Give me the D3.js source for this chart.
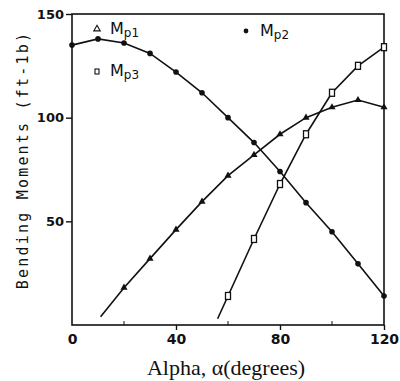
<!DOCTYPE html>
<html>
<head>
<meta charset="utf-8">
<script src="https://cdn.jsdelivr.net/npm/d3@7"></script>
<style>
  body { margin: 0; background: #fff; }
  svg { display: block; }
</style>
</head>
<body>
<div id="chart"></div>
<script>
// values
var alpha = [0, 10, 20, 30, 40, 50, 60, 70, 80, 90, 100, 110, 120];
var mp2 = [135, 138, 136, 131, 122, 112, 100, 88, 74, 59, 45, 29.5, 14];

var mp1Alpha = [11, 20, 30, 40, 50, 60, 70, 80, 90, 100, 110, 120];
var mp1 = [4, 18, 32, 46, 59.5, 72, 82, 92, 100, 105, 108.5, 105];

var mp3Alpha = [56, 60, 70, 80, 90, 100, 110, 120];
var mp3 = [3, 14, 41.5, 68, 92, 112, 125, 134];

var xTicks = [0, 40, 80, 120];
var yTicks = [50, 100, 150];

var W = 400, H = 381;
var svg = d3.select("#chart").append("svg")
  .attr("width", W).attr("height", H);

var x = d3.scaleLinear().domain([0, 120]).range([72, 384]);
var y = d3.scaleLinear().domain([0, 150]).range([325, 14]);

var ink = "#111";

// frame
svg.append("rect")
  .attr("x", x(0)).attr("y", y(150))
  .attr("width", x(120) - x(0)).attr("height", y(0) - y(150))
  .attr("fill", "none").attr("stroke", ink).attr("stroke-width", 1.6);

// left axis
var yAxis = d3.axisLeft(y).tickValues(yTicks).tickSize(6).tickPadding(2);
var gy = svg.append("g").attr("transform", "translate(" + x(0) + ",0)").call(yAxis);
gy.select(".domain").remove();
gy.selectAll("line").attr("stroke", ink).attr("stroke-width", 1.4);
gy.selectAll("text")
  .attr("font-family", "DejaVu Sans").attr("font-size", 13).attr("font-weight", "bold")
  .attr("fill", ink);

// bottom axis
var xAxis = d3.axisBottom(x).tickValues(xTicks).tickSize(5).tickPadding(4)
  .tickFormat(d3.format("d"));
var gx = svg.append("g").attr("transform", "translate(0," + y(0) + ")").call(xAxis);
gx.select(".domain").remove();
gx.selectAll("line").attr("stroke", ink).attr("stroke-width", 1.4);
gx.selectAll("text")
  .attr("font-family", "DejaVu Sans").attr("font-size", 14).attr("font-weight", "bold")
  .attr("fill", ink);
gx.selectAll(".tick").filter(function(d) { return d === 0; }).select("line").remove();

// minor ticks along the x axis
svg.selectAll(".minor")
  .data([20, 60, 100])
  .enter().append("line")
  .attr("x1", function(d) { return x(d); }).attr("x2", function(d) { return x(d); })
  .attr("y1", y(0)).attr("y2", y(0) - 4)
  .attr("stroke", ink).attr("stroke-width", 1);

// axis titles
svg.append("text")
  .attr("transform", "translate(28," + 160 + ") rotate(-90)")
  .attr("text-anchor", "middle")
  .attr("font-family", "DejaVu Sans Mono").attr("font-size", 15)
  .attr("letter-spacing", 2.2)
  .attr("fill", ink)
  .text("Bending Moments (ft-1b)");

svg.append("text")
  .attr("x", 226).attr("y", 375)
  .attr("text-anchor", "middle")
  .attr("font-family", "Liberation Serif").attr("font-size", 22)
  .attr("fill", ink)
  .text("Alpha, \u03b1(degrees)");

// lines
var line = d3.line()
  .x(function(d) { return x(d[0]); })
  .y(function(d) { return y(d[1]); });

var s1 = d3.zip(mp1Alpha, mp1);
var s2 = d3.zip(alpha, mp2);
var s3 = d3.zip(mp3Alpha, mp3);

[s1, s2, s3].forEach(function(s) {
  svg.append("path").datum(s)
    .attr("d", line)
    .attr("fill", "none").attr("stroke", ink).attr("stroke-width", 1.6);
});

// markers
svg.selectAll(".tri")
  .data(s1.slice(1))
  .enter().append("path")
  .attr("class", "tri")
  .attr("d", d3.symbol().type(d3.symbolTriangle).size(22))
  .attr("transform", function(d) { return "translate(" + x(d[0]) + "," + y(d[1]) + ")"; })
  .attr("fill", ink);

svg.selectAll(".dot")
  .data(s2)
  .enter().append("circle")
  .attr("class", "dot")
  .attr("cx", function(d) { return x(d[0]); })
  .attr("cy", function(d) { return y(d[1]); })
  .attr("r", 2.8)
  .attr("fill", ink);

svg.selectAll(".sq")
  .data(s3.slice(1))
  .enter().append("rect")
  .attr("class", "sq")
  .attr("x", function(d) { return x(d[0]) - 2.5; })
  .attr("y", function(d) { return y(d[1]) - 3.5; })
  .attr("width", 5).attr("height", 7)
  .attr("fill", "#fff").attr("stroke", ink).attr("stroke-width", 1.3);

// legend
function legendLabel(px, py, sub) {
  var t = svg.append("text")
    .attr("x", px).attr("y", py)
    .attr("font-family", "DejaVu Sans").attr("font-size", 16)
    .attr("fill", ink);
  t.append("tspan").text("M");
  t.append("tspan").attr("dy", 3).attr("font-size", 12).text(sub);
}

svg.append("path")
  .attr("d", d3.symbol().type(d3.symbolTriangle).size(18))
  .attr("transform", "translate(97,29)")
  .attr("fill", "none").attr("stroke", ink).attr("stroke-width", 1.1);
legendLabel(110, 34, "p1");

svg.append("circle").attr("cx", 246).attr("cy", 31).attr("r", 2.4).attr("fill", ink);
legendLabel(260, 36, "p2");

svg.append("rect").attr("x", 95).attr("y", 69).attr("width", 4).attr("height", 5)
  .attr("fill", "none").attr("stroke", ink).attr("stroke-width", 1.1);
legendLabel(110, 76, "p3");
</script>
</body>
</html>
